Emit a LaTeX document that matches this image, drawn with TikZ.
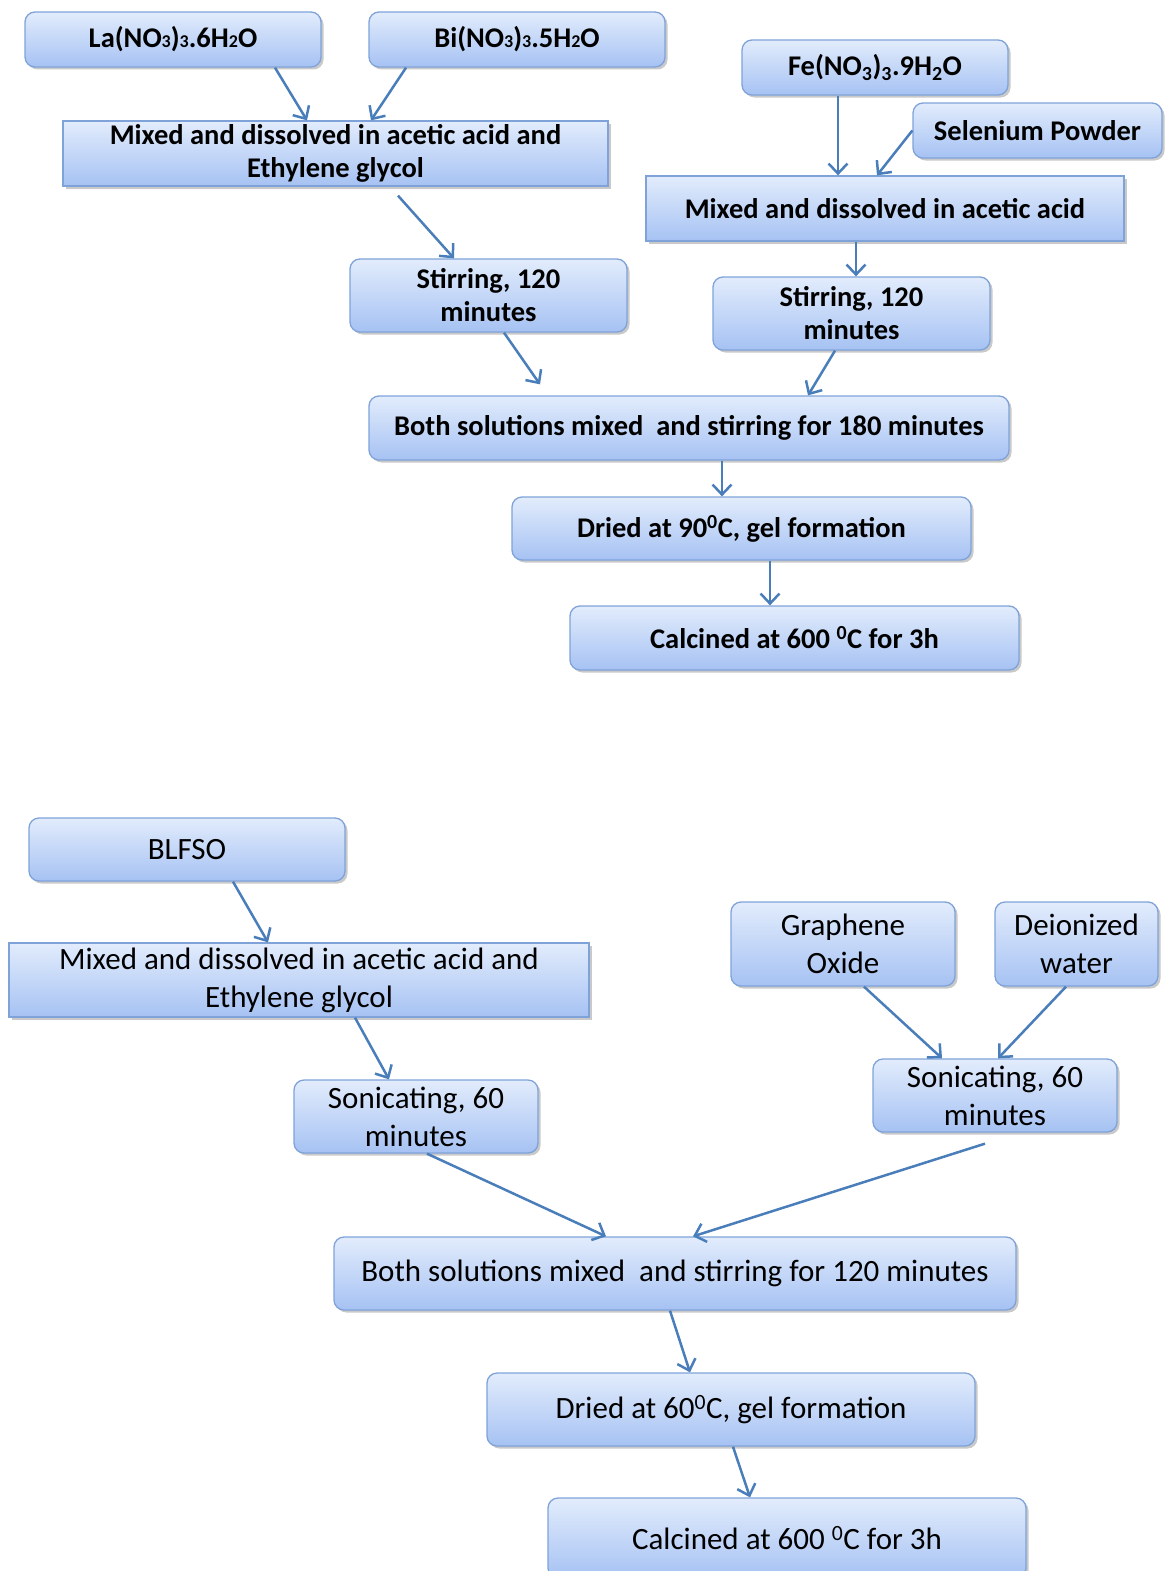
\documentclass[tikz,border=0pt]{standalone}
\usepackage{fontspec}
\setmainfont{Carlito}
\usetikzlibrary{arrows.meta,shadows}
\definecolor{bordc}{HTML}{7FA3D9}
\definecolor{topc}{HTML}{E2ECFC}
\definecolor{botc}{HTML}{A6C2F3}
\definecolor{arrc}{HTML}{4A7EBB}
\newcommand{\smallsub}[1]{{\fontsize{18}{18}\selectfont #1}}
\begin{document}
\begin{tikzpicture}[x=1pt,y=-1pt,
  boxbase/.style={draw=bordc, line width=1.3pt, top color=topc, bottom color=botc,
    drop shadow={shadow xshift=2.5pt, shadow yshift=-2.5pt, opacity=0.35, fill=black!60},
    inner sep=0pt, align=center, text=black},
  sqbox/.style={boxbase},
  rbox/.style={boxbase, rounded corners=10pt},
  topfont/.style={font=\fontsize{28.5}{33}\selectfont\bfseries},
  botfont/.style={font=\fontsize{31}{38}\selectfont},
  conn/.style={draw=arrc, line width=2.5pt, -{Straight Barb[length=10pt,width=19pt,line width=2.5pt]}}
]
\useasboundingbox (0,0) rectangle (1166,1571);
\fill[white] (0,0) rectangle (1166,1571);

% ---------- top half ----------
\node[rbox,topfont,minimum width=296pt,minimum height=55pt] (La) at (173,39.5) {La(NO\smallsub{3})\smallsub{3}.6H\smallsub{2}O};
\node[rbox,topfont,minimum width=296pt,minimum height=55pt] (Bi) at (517,39.5) {Bi(NO\smallsub{3})\smallsub{3}.5H\smallsub{2}O};
\node[sqbox,topfont,minimum width=545pt,minimum height=65pt] (Mix1) at (335.5,153.5) {Mixed and dissolved in acetic acid and\\Ethylene glycol};
\node[rbox,topfont,minimum width=266pt,minimum height=55pt] (Fe) at (875,67.5) {Fe(NO\textsubscript{3})\textsubscript{3}.9H\textsubscript{2}O};
\node[rbox,topfont,minimum width=249pt,minimum height=55pt] (Se) at (1037.5,130.5) {Selenium Powder};
\node[sqbox,topfont,minimum width=478pt,minimum height=65pt] (Mix2) at (885,208.5) {Mixed and dissolved in acetic acid};
\node[rbox,topfont,minimum width=277pt,minimum height=73pt] (StirL) at (488.5,295.5) {Stirring, 120\\minutes};
\node[rbox,topfont,minimum width=277pt,minimum height=73pt] (StirR) at (851.5,313.5) {Stirring, 120\\minutes};
\node[rbox,topfont,minimum width=640pt,minimum height=64pt] (BothA) at (689,428) {Both solutions mixed\ \ and stirring for 180 minutes};
\node[rbox,topfont,minimum width=459pt,minimum height=63pt] (DriedA) at (741.5,528.5) {Dried at 90\textsuperscript{0}C, gel formation};
\node[rbox,topfont,minimum width=449pt,minimum height=64pt] (CalcA) at (794.5,638) {Calcined at 600 \textsuperscript{0}C for 3h};

\draw[conn] ([xshift=102pt]La.south) -- ([xshift=-28.5pt]Mix1.north);
\draw[conn] ([xshift=-111pt]Bi.south) -- ([xshift=35.5pt]Mix1.north);
\draw[conn] ([xshift=62.5pt,yshift=-9pt]Mix1.south) -- ([xshift=-34.5pt]StirL.north);
\draw[conn] ([xshift=-37pt]Fe.south) -- ([xshift=-47pt]Mix2.north);
\draw[conn] (Se.west) -- ([xshift=-8pt]Mix2.north);
\draw[conn] ([xshift=-29pt]Mix2.south) -- ([xshift=4.5pt]StirR.north);
\draw[conn] ([xshift=15.5pt]StirL.south) -- ([xshift=-149pt,yshift=11pt]BothA.north);
\draw[conn] ([xshift=-16.5pt]StirR.south) -- ([xshift=119pt]BothA.north);
\draw[conn] ([xshift=33pt]BothA.south) -- ([xshift=-19.5pt]DriedA.north);
\draw[conn] ([xshift=28.5pt]DriedA.south) -- ([xshift=-24.5pt]CalcA.north);

% ---------- bottom half ----------
\node[rbox,botfont,minimum width=316pt,minimum height=63pt] (BLFSO) at (187,849.5) {BLFSO};
\node[sqbox,botfont,minimum width=580pt,minimum height=74pt] (Mix3) at (299,980) {Mixed and dissolved in acetic acid and\\Ethylene glycol};
\node[rbox,botfont,minimum width=244pt,minimum height=73pt] (SonL) at (416,1116.5) {Sonicating, 60\\minutes};
\node[rbox,botfont,minimum width=224pt,minimum height=84pt] (GO) at (843,944) {Graphene\\Oxide};
\node[rbox,botfont,minimum width=163pt,minimum height=84pt] (DW) at (1076.5,944) {Deionized\\water};
\node[rbox,botfont,minimum width=244pt,minimum height=73pt] (SonR) at (995,1095.5) {Sonicating, 60\\minutes};
\node[rbox,botfont,minimum width=682pt,minimum height=73pt] (BothB) at (675,1273.5) {Both solutions mixed\ \ and stirring for 120 minutes};
\node[rbox,botfont,minimum width=488pt,minimum height=73pt] (DriedB) at (731,1409.5) {Dried at 60\textsuperscript{0}C, gel formation};
\node[rbox,botfont,minimum width=478pt,minimum height=80pt] (CalcB) at (787,1538) {Calcined at 600 \textsuperscript{0}C for 3h};

\draw[conn] ([xshift=46pt]BLFSO.south) -- ([xshift=-31pt]Mix3.north);
\draw[conn] ([xshift=56pt]Mix3.south) -- ([xshift=-27pt]SonL.north);
\draw[conn] ([xshift=11pt]SonL.south) -- ([xshift=-69pt]BothB.north);
\draw[conn] ([xshift=-10pt,yshift=-11pt]SonR.south) -- ([xshift=18pt]BothB.north);
\draw[conn] ([xshift=21pt]GO.south) -- ([xshift=-53pt]SonR.north);
\draw[conn] ([xshift=-10.5pt]DW.south) -- ([xshift=3pt]SonR.north);
\draw[conn] ([xshift=-5pt]BothB.south) -- ([xshift=-41pt]DriedB.north);
\draw[conn] ([xshift=2pt]DriedB.south) -- ([xshift=-37pt]CalcB.north);
\end{tikzpicture}
\end{document}
